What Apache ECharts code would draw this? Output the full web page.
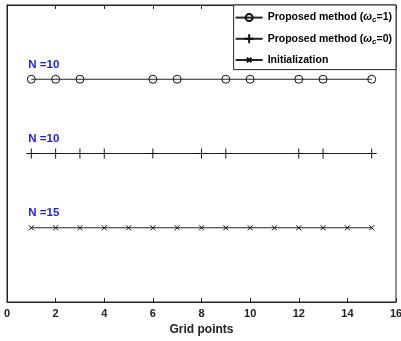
<!DOCTYPE html>
<html>
<head>
<meta charset="utf-8">
<script src="https://cdn.jsdelivr.net/npm/echarts@6/dist/echarts.min.js"></script>
<style>
  html, body { margin: 0; padding: 0; background: #fff; }
  #chart { width: 401px; height: 341px; }
</style>
</head>
<body>
<div id="chart"></div>
<script>
// grid points picked by each method, and the row each one is drawn on
const circlePoints = [1, 2, 3, 6, 7, 9, 10, 12, 13, 15];
const plusPoints = [1, 2, 3, 4, 6, 8, 9, 12, 13, 15];
const initPoints = [1, 2, 3, 4, 5, 6, 7, 8, 9, 10, 11, 12, 13, 14, 15];
const rows = [3, 2, 1];
const seriesNames = ['Proposed method (wc=1)', 'Proposed method (wc=0)', 'Initialization'];
const rowLabels = ['N =10', 'N =10', 'N =15'];
const xTicks = [0, 2, 4, 6, 8, 10, 12, 14, 16];

const font = 'Liberation Sans, Arial, sans-serif';

// symbol paths padded with bare moveTo points so the legend icons come out small
const circleSym = 'path://M0,0 M3,8 A5,5 0 1 1 13,8 A5,5 0 1 1 3,8 M16,16';
const plusSym = 'path://M0,0 M5,1 L5,9 M1,5 L9,5 M10,10';
const crossSym = 'path://M0,0 M3,3 L7,7 M7,3 L3,7 M10,10';

// build one line series per row; first point carries the blue "N =" label
function makeSeries(idx, pts, symbol, size) {
  const data = pts.map((x, i) => {
    const d = { value: [x, rows[idx]] };
    if (i === 0) {
      d.label = {
        show: true,
        formatter: rowLabels[idx],
        position: 'inside',
        offset: [12.5, -14.5],
        color: '#1a1aff',
        fontWeight: 'bold',
        fontSize: 11.5,
        fontFamily: font
      };
    }
    return d;
  });
  return {
    name: seriesNames[idx],
    type: 'line',
    data: data,
    symbol: symbol,
    symbolSize: size,
    showAllSymbol: true,
    lineStyle: { color: '#222', width: 1 },
    itemStyle: { color: 'rgba(0,0,0,0)', borderColor: '#111', borderWidth: 1 },
    emphasis: { disabled: true },
    animation: false
  };
}

const chart = echarts.init(document.getElementById('chart'));
chart.setOption({
  animation: false,
  grid: {
    left: 7, right: 5, top: 5, bottom: 39,
    outerBoundsMode: 'none',
    show: true, borderColor: '#222', borderWidth: 1
  },
  legend: {
    orient: 'vertical',
    right: 5,
    top: 5,
    padding: [6, 4, 3, 1],
    itemWidth: 27,
    itemHeight: 14,
    itemGap: 8,
    borderColor: '#222',
    borderWidth: 1,
    borderRadius: 0,
    backgroundColor: '#fff',
    data: seriesNames,
    formatter: function (name) {
      if (name === seriesNames[0]) return 'Proposed method ({w|ω}{sub|c}=1)';
      if (name === seriesNames[1]) return 'Proposed method ({w|ω}{sub|c}=0)';
      return name;
    },
    textStyle: {
      color: '#000',
      fontWeight: 'bold',
      fontSize: 10.5,
      fontFamily: font,
      rich: {
        w: { fontStyle: 'italic', fontWeight: 'bold', fontSize: 10.5, fontFamily: font },
        sub: { fontWeight: 'bold', fontSize: 8, fontFamily: font, verticalAlign: 'bottom', padding: [5, 0, 0, 0] }
      }
    }
  },
  xAxis: [{
    type: 'value',
    min: 0,
    max: 16,
    interval: 2,
    name: 'Grid points',
    nameLocation: 'middle',
    nameGap: 16,
    nameTextStyle: { fontWeight: 'bold', fontSize: 12, color: '#222', fontFamily: font },
    axisLine: { show: true, lineStyle: { color: '#222' } },
    axisTick: { show: true, inside: true, length: 4, lineStyle: { color: '#222' } },
    axisLabel: {
      fontWeight: 'bold', fontSize: 11, color: '#222', fontFamily: font, margin: 6,
      customValues: xTicks
    },
    splitLine: { show: false }
  }, {
    type: 'value',
    position: 'top',
    min: 0,
    max: 16,
    interval: 2,
    axisLine: { show: true, lineStyle: { color: '#222' } },
    axisTick: { show: true, inside: true, length: 4, lineStyle: { color: '#222' } },
    axisLabel: { show: false },
    splitLine: { show: false }
  }],
  yAxis: {
    type: 'value',
    min: 0,
    max: 4,
    axisLine: { show: true, lineStyle: { color: '#222' } },
    axisTick: { show: false },
    axisLabel: { show: false },
    splitLine: { show: false }
  },
  series: [
    makeSeries(0, circlePoints, circleSym, 12.8),
    makeSeries(1, plusPoints, plusSym, 12.5),
    makeSeries(2, initPoints, crossSym, 12.5)
  ]
});
</script>
</body>
</html>
